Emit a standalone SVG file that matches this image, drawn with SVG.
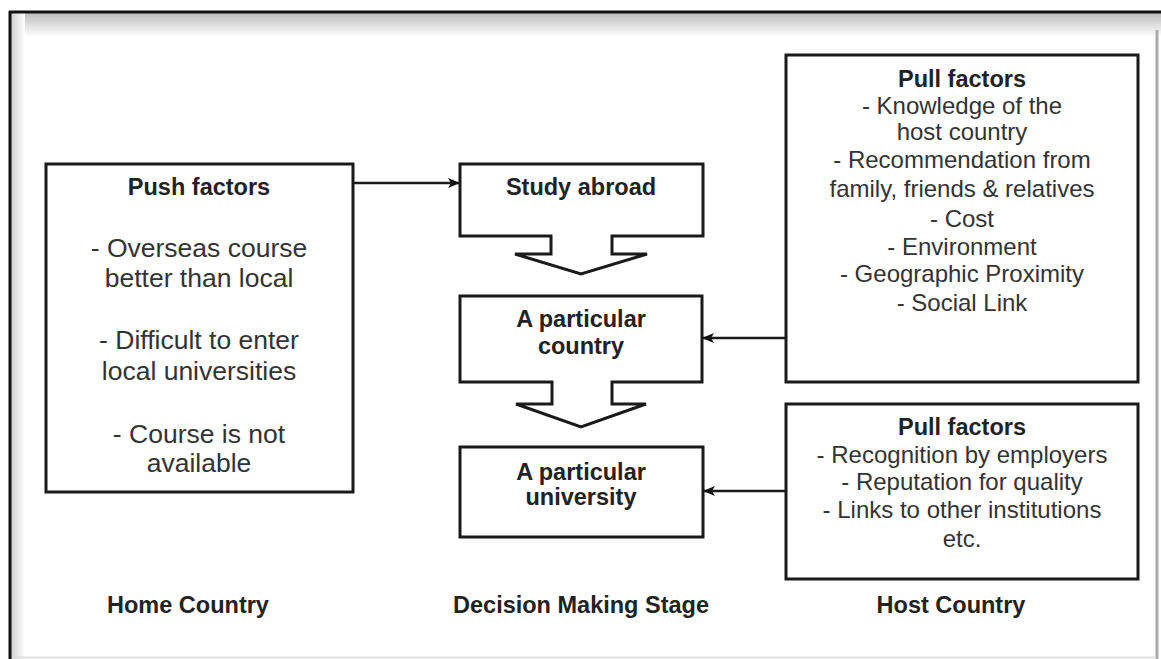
<svg xmlns="http://www.w3.org/2000/svg" width="1161" height="659" viewBox="0 0 1161 659">
<defs>
<linearGradient id="topShade" x1="0" y1="0" x2="0" y2="1">
<stop offset="0" stop-color="#bdbdbd"/>
<stop offset="1" stop-color="#ffffff"/>
</linearGradient>
<linearGradient id="leftShade" x1="0" y1="0" x2="1" y2="0">
<stop offset="0" stop-color="#d0d0d0"/>
<stop offset="1" stop-color="#ffffff"/>
</linearGradient>
<marker id="arr" viewBox="0 0 12 10" refX="11" refY="5" markerWidth="12" markerHeight="10" markerUnits="userSpaceOnUse" orient="auto">
<path d="M0,0 L12,5 L0,10 L3,5 Z" fill="#111"/>
</marker>
<style>
.box{fill:#fff;stroke:#1a1a1a;stroke-width:3}
.conn{fill:none;stroke:#1a1a1a;stroke-width:2.4}
.b{font-family:"Liberation Sans",Arial,sans-serif;font-weight:bold;font-size:23.5px;fill:#222;text-anchor:middle}
.r{font-family:"Liberation Sans",Arial,sans-serif;font-size:24px;fill:#333;text-anchor:middle}
.rp{font-family:"Liberation Sans",Arial,sans-serif;font-size:26.5px;fill:#333;text-anchor:middle}
</style>
</defs>
<rect x="0" y="0" width="1161" height="659" fill="#fff"/>
<g id="frame">
<rect x="10" y="13" width="1151" height="24" fill="url(#topShade)"/>
<rect x="11" y="13" width="14" height="646" fill="url(#leftShade)"/>
<line x1="9" y1="12" x2="1161" y2="12" stroke="#111" stroke-width="3"/>
<line x1="10" y1="11" x2="10" y2="659" stroke="#111" stroke-width="3"/>
<line x1="1157" y1="30" x2="1157" y2="659" stroke="#aaa" stroke-width="3"/>
<line x1="12" y1="657.5" x2="1156" y2="657.5" stroke="#ddd" stroke-width="2"/>
</g>
<g id="push">
<rect class="box" x="46" y="164" width="307" height="328"/>
<text class="b" x="199" y="195">Push factors</text>
<text class="rp" x="199" y="257">- Overseas course</text>
<text class="rp" x="199" y="287">better than local</text>
<text class="rp" x="199" y="349">- Difficult to enter</text>
<text class="rp" x="199" y="380">local universities</text>
<text class="rp" x="199" y="443">- Course is not</text>
<text class="rp" x="199" y="472">available</text>
</g>
<g id="study">
<path class="box" d="M460,164 H703 V236 H612 V254 H647 L581,274 L515,254 H551 V236 H460 Z"/>
<text class="b" x="581" y="195">Study abroad</text>
</g>
<g id="country">
<path class="box" d="M460,296 H702 V382 H612 V404 H646 L581,427 L516,404 H552 V382 H460 Z"/>
<text class="b" x="581" y="327">A particular</text>
<text class="b" x="581" y="354">country</text>
</g>
<g id="university">
<rect class="box" x="460" y="447" width="243" height="90"/>
<text class="b" x="581" y="480">A particular</text>
<text class="b" x="581" y="505">university</text>
</g>
<g id="pull1">
<rect class="box" x="786" y="55" width="352" height="327"/>
<text class="b" x="962" y="87">Pull factors</text>
<text class="r" x="962" y="114">- Knowledge of the</text>
<text class="r" x="962" y="140">host country</text>
<text class="r" x="962" y="168">- Recommendation from</text>
<text class="r" x="962" y="197">family, friends &amp; relatives</text>
<text class="r" x="962" y="227">- Cost</text>
<text class="r" x="962" y="255">- Environment</text>
<text class="r" x="962" y="282">- Geographic Proximity</text>
<text class="r" x="962" y="311">- Social Link</text>
</g>
<g id="pull2">
<rect class="box" x="786" y="404" width="352" height="175"/>
<text class="b" x="962" y="435">Pull factors</text>
<text class="r" x="962" y="463">- Recognition by employers</text>
<text class="r" x="962" y="490">- Reputation for quality</text>
<text class="r" x="962" y="518">- Links to other institutions</text>
<text class="r" x="962" y="547">etc.</text>
</g>
<g id="connectors">
<line class="conn" x1="354" y1="183" x2="459" y2="183" marker-end="url(#arr)"/>
<line class="conn" x1="785" y1="338" x2="703" y2="338" marker-end="url(#arr)"/>
<line class="conn" x1="785" y1="491" x2="704" y2="491" marker-end="url(#arr)"/>
</g>
<g id="labels">
<text class="b" x="188" y="613">Home Country</text>
<text class="b" x="581" y="613">Decision Making Stage</text>
<text class="b" x="951" y="613">Host Country</text>
</g>
</svg>
